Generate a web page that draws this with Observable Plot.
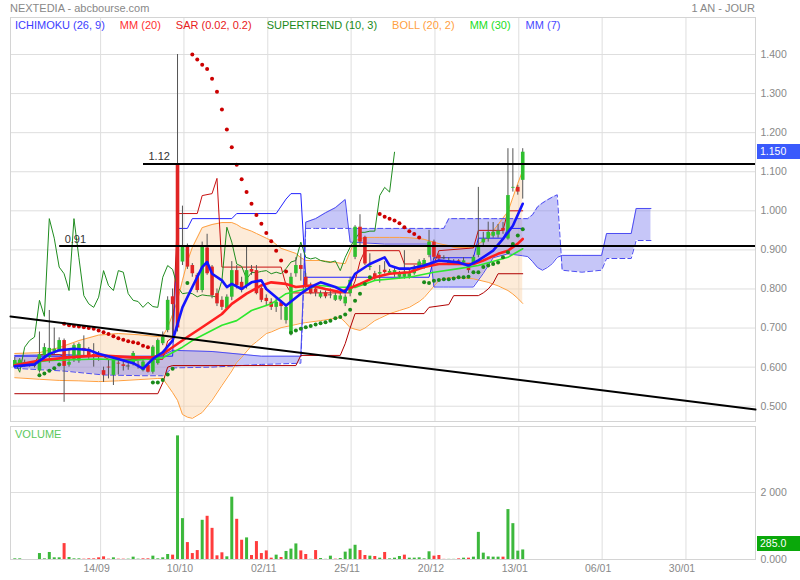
<!DOCTYPE html>
<html><head><meta charset="utf-8">
<script src="https://cdn.jsdelivr.net/npm/d3@7"></script>
<script src="https://cdn.jsdelivr.net/npm/@observablehq/plot@0.6"></script>
<style>
body{margin:0;background:#fff;font-family:"Liberation Sans",Arial,sans-serif;}
#wrap{position:relative;width:800px;height:580px;overflow:hidden;background:#fff;}
.p{position:absolute;left:0;}
.t{position:absolute;font-size:11px;line-height:11px;white-space:nowrap;}
#legend{position:absolute;left:15px;top:20px;display:flex;gap:15px;font-size:11px;line-height:11px;white-space:nowrap;}
.badge{position:absolute;left:757px;width:43px;height:15px;color:#fff;font-size:10.5px;line-height:15px;padding-left:3px;box-sizing:border-box;}
</style></head><body>
<div id="wrap">
  <div class="p" id="price" style="top:0"></div>
  <div class="p" id="dates" style="top:560px"></div>
  <div class="p" id="vol" style="top:425px"></div>
</div>
<script>
// ---------- DATA ----------
const title = "NEXTEDIA - abcbourse.com";
const period = "1 AN - JOUR";
const legendLabels = ["ICHIMOKU (26, 9)", "MM (20)", "SAR (0.02, 0.2)", "SUPERTREND (10, 3)", "BOLL (20, 2)", "MM (30)", "MM (7)"];
const legendColors = ["#3d3dff", "#ff3030", "#e82020", "#1a8a1a", "#ffa040", "#22dd22", "#4848ff"];

const dateTickIdx = [17.4, 34.3, 51.3, 68.2, 85.2, 102.2, 119.1, 136.1];
const dateLabels = ["14/09", "10/10", "02/11", "25/11", "20/12", "13/01", "06/01", "30/01"];
const priceTicks = [0.5, 0.6, 0.7, 0.8, 0.9, 1.0, 1.1, 1.2, 1.3, 1.4];
const volTicks = [0, 2000];

const open = [.600,.603,.605,.606,.604,.590,.630,.625,.640,.643,
.668,.605,.620,.616,.648,.645,.632,.635,.591,.600,
.579,.610,.606,.603,.609,.606,.591,.604,.587,.609,
.660,.694,.780,1.120,.869,.909,.860,.835,.796,.905,
.856,.788,.771,.749,.779,.847,.817,.809,.850,.847,
.801,.776,.766,.753,.765,.719,.685,.839,.860,.830,
.809,.800,.779,.790,.785,.771,.772,.762,.788,.881,
.958,.932,.855,.839,.838,.848,.840,.839,.830,.830,
.830,.839,.852,.856,.886,.920,.886,.880,.864,.870,
.872,.866,.860,.864,.886,.918,.928,.935,.938,.955,
.928,1.058,1.060,1.078];
const close = [.617,.618,.612,.606,.604,.632,.650,.648,.646,.668,
.602,.612,.655,.658,.642,.625,.628,.625,.579,.598,
.617,.608,.602,.603,.635,.605,.613,.587,.651,.668,
.677,.771,.760,.700,.907,.856,.839,.796,.907,.839,
.783,.762,.753,.779,.847,.809,.796,.847,.843,.788,
.771,.768,.753,.766,.755,.753,.830,.860,.850,.805,
.788,.790,.788,.780,.785,.783,.782,.779,.822,.958,
.920,.864,.858,.826,.842,.842,.845,.847,.839,.843,
.839,.852,.869,.873,.920,.881,.877,.880,.873,.870,
.868,.872,.847,.881,.907,.928,.945,.945,.948,.948,
1.039,1.060,1.048,1.150];
const high = [.625,.622,.618,.612,.610,.690,.660,.745,.700,.675,
.672,.645,.660,.662,.680,.650,.660,.640,.600,.620,
.625,.620,.615,.610,.640,.615,.618,.610,.655,.672,
.690,.780,.800,1.400,1.012,.915,.865,.840,.920,.940,
.860,.800,.780,.785,.870,.860,.830,.907,.860,.860,
.805,.785,.775,.775,.770,.760,.840,.880,.890,.840,
.815,.805,.795,.795,.800,.790,.790,.785,.830,.962,
.990,.935,.890,.845,.860,.870,.850,.855,.845,.898,
.850,.860,.875,.878,.950,.925,.890,.885,.880,.875,
.875,.880,.865,.886,1.060,.945,.971,.970,.965,.970,
1.159,1.159,1.065,1.159];
const low = [.598,.600,.600,.600,.598,.585,.620,.610,.630,.640,
.510,.600,.612,.610,.628,.620,.600,.615,.561,.570,
.553,.580,.590,.592,.603,.595,.588,.585,.582,.605,
.655,.688,.668,.690,.860,.850,.830,.790,.790,.835,
.775,.755,.745,.745,.770,.800,.790,.800,.835,.785,
.765,.755,.745,.740,.720,.710,.680,.830,.820,.800,
.785,.780,.775,.775,.775,.768,.768,.755,.780,.875,
.910,.860,.847,.820,.815,.838,.835,.830,.825,.825,
.825,.835,.848,.850,.880,.875,.870,.875,.860,.865,
.860,.862,.840,.860,.880,.910,.920,.930,.930,.940,
.925,1.048,1.040,1.030];
const volume = [20,20,0,0,0,178,20,210,50,50,
475,60,20,20,10,20,20,50,80,10,
50,10,10,10,70,10,20,20,100,20,
50,150,130,3690,1220,505,178,267,1170,1290,
930,110,200,80,1860,1200,575,645,120,535,
178,257,40,130,60,240,310,465,257,150,
5,267,30,5,100,10,30,220,310,425,
267,120,100,90,40,210,20,40,90,130,
40,40,50,20,230,100,120,5,5,5,
20,40,40,70,810,190,80,70,70,70,
1490,1070,250,285];
const volumeUp = [1,1,1,1,1,1,1,1,1,1,
0,1,1,1,0,0,0,0,0,0,
1,0,0,1,1,1,0,0,1,1,
1,1,0,1,1,0,0,0,1,0,
0,0,0,1,1,0,0,1,0,0,
0,0,0,1,0,1,1,1,0,0,
1,0,1,1,1,0,1,1,1,1,
0,0,1,0,1,0,1,1,1,0,
1,1,1,1,1,0,0,0,1,1,
0,1,0,1,1,1,1,1,1,0,
1,1,1,1];

// moving averages [bar index, value]
const mm20 = [[0,.605],[5,.617],[11,.625],[17,.630],[24,.625],[28,.625],[30,.634],[32,.651],[35,.677],[38,.702],[42,.736],[44,.762],[47,.788],[50,.809],[52,.817],[55,.813],[57,.805],[60,.809],[63,.800],[66,.792],[70,.813],[73,.830],[76,.839],[80,.843],[83,.856],[86,.864],[90,.864],[93,.864],[95,.873],[98,.890],[100,.898],[102,.916],[103,.928]];
const mm30 = [[0,.607],[7,.617],[17,.621],[24,.617],[30,.624],[34,.651],[36,.668],[42,.707],[45,.719],[48,.745],[52,.762],[55,.788],[59,.800],[62,.809],[65,.805],[69,.804],[73,.822],[80,.830],[85,.843],[90,.852],[94,.860],[100,.881],[103,.903]];
const mm7 = [[0,.602],[4,.607],[7,.634],[9,.643],[12,.647],[15,.644],[17,.634],[21,.621],[24,.610],[26,.596],[28,.621],[30,.638],[32,.668],[34,.753],[36,.805],[38,.856],[39,.869],[40,.839],[42,.822],[43,.805],[44,.813],[46,.800],[48,.817],[50,.822],[51,.800],[53,.779],[55,.758],[58,.788],[60,.805],[62,.817],[65,.805],[67,.792],[69,.839],[72,.864],[75,.881],[76,.860],[78,.852],[80,.852],[83,.860],[86,.873],[90,.868],[92,.860],[94,.873],[97,.898],[99,.928],[101,.962],[103,1.018]];

// Bollinger [index, upper, lower]
const boll = [[0,.635,.573],[5,.637,.569],[9,.650,.566],[13,.668,.565],[17,.682,.563],[21,.686,.565],[25,.683,.568],[29,.678,.571],[30,.680,.571],[31,.701,.553],[32,.735,.535],[33,.770,.515],[34,.822,.479],[35,.870,.472],[36,.906,.469],[38,.957,.484],[40,.965,.515],[42,.970,.553],[44,.970,.590],[45,.965,.612],[46,.957,.625],[48,.948,.655],[49,.942,.665],[51,.930,.686],[52,.924,.690],[54,.904,.701],[57,.891,.709],[58,.880,.712],[59,.873,.714],[62,.873,.719],[65,.868,.725],[66,.866,.727],[67,.865,.715],[68,.895,.701],[69,.924,.697],[70,.928,.694],[71,.932,.700],[73,.932,.719],[74,.932,.725],[76,.932,.737],[78,.932,.745],[80,.931,.753],[82,.929,.768],[83,.927,.778],[86,.916,.822],[88,.911,.829],[89,.906,.829],[92,.906,.827],[93,.906,.826],[96,.932,.817],[98,.965,.808],[100,.998,.796],[101,1.034,.787],[102,1.070,.776],[103,1.103,.763]];

// Ichimoku cloud [index, span A, span B]
const kumo = [[0,.630,.597],[10,.632,.590],[18,.628,.580],[26,.622,.578],[30,.630,.578],[32,.643,.598],[40,.640,.600],[50,.628,.607],[58,.628,.610],[59,.971,.955],[61,.980,.955],[63,.995,.955],[65,1.008,.955],[67,1.029,.955],[68,.920,.955],[75,.915,.955],[84,.915,.955],[85,.805,.955],[87,.805,.955],[88,.805,.980],[93,.805,.980],[95,.840,.980],[97,.880,.980],[100,.890,.980],[103,.885,.980],[104,.883,.980],[105,.870,.990],[106,.855,1.010],[107,.848,1.020],[108,.855,1.028],[109,.865,1.035],[110,.881,1.041],[111,.886,.848],[115,.886,.843],[119,.886,.848],[120,.942,.878],[125,.942,.878],[126,1.006,.924],[129,1.006,.924]];
const tenkan = [[0,.610],[4,.610],[5,.632],[9,.632],[10,.627],[18,.627],[19,.620],[30,.620],[31,.667],[32,.676],[33,.993],[37,.993],[38,1.039],[40,1.044],[41,1.083],[42,.856],[54,.856],[55,.810],[56,.790],[68,.790],[69,.820],[70,.870],[71,.898],[78,.898],[79,.864],[85,.864],[86,.898],[93,.905],[94,.950],[99,.950],[100,1.000],[103,1.000]];
const kijun = [[0,.628],[32,.628],[33,.955],[35,.955],[36,.980],[44,.980],[45,.993],[53,.993],[55,1.030],[56,1.044],[58,1.044],[59,.830],[84,.830],[85,.880],[93,.880],[94,.930],[99,.930],[100,.955],[103,.955]];
// lagging span, one value per bar from bar 0
const chikou = [.613,.587,.651,.668,.677,.771,.730,.980,.930,.856,
.839,.796,.980,.880,.783,.762,.753,.779,.847,.809,
.796,.847,.843,.788,.771,.768,.753,.766,.755,.753,
.830,.860,.850,.805,.788,.790,.788,.780,.785,.783,
.782,.779,.822,.958,.920,.864,.858,.826,.842,.842,
.845,.847,.839,.843,.839,.852,.869,.873,.920,.881,
.877,.880,.873,.870,.868,.872,.847,.881,.907,.928,
.945,.945,.948,.948,1.039,1.060,1.048,1.150];
const supertrend = [[0,.532],[29,.532],[30,.560],[31,.600],[32,.604],[57,.604],[58,.630],[66,.630],[67,.660],[68,.700],[69,.737],[83,.737],[84,.753],[88,.760],[89,.783],[94,.783],[95,.790],[96,.800],[97,.815],[98,.839],[103,.839]];

// SAR dots [index, value]
const sarBelow = [[5,.579],[6,.584],[7,.591],[8,.597],[9,.607],[28,.561],[29,.561],[30,.567],[31,.581],[32,.596],[35,.815],[56,.688],[57,.694],[58,.698],[59,.702],[60,.705],[61,.709],[62,.712],[63,.715],[64,.719],[65,.725],[66,.728],[67,.735],[68,.747],[69,.770],[70,.788],[71,.813],[72,.830],[83,.817],[84,.815],[85,.821],[86,.823],[87,.825],[88,.825],[89,.827],[90,.830],[91,.830],[92,.831],[93,.843],[94,.843],[95,.856],[96,.860],[97,.864],[98,.868],[99,.881],[100,.894],[101,.915],[102,.937],[103,.953]];
const sarAbove = [[10,.711],[11,.707],[12,.705],[13,.704],[14,.702],[15,.700],[16,.698],[17,.694],[18,.689],[19,.685],[20,.679],[21,.674],[22,.670],[23,.666],[24,.664],[25,.661],[26,.655],[27,.651],[36,1.400],[37,1.387],[38,1.374],[39,1.363],[40,1.338],[41,1.305],[42,1.259],[43,1.208],[44,1.163],[45,1.118],[46,1.081],[47,1.048],[48,1.018],[49,.989],[50,.967],[51,.943],[52,.922],[53,.898],[54,.873],[55,.845],[74,.992],[75,.985],[76,.980],[77,.975],[78,.968],[79,.958],[80,.948],[81,.941],[82,.932]];

// drawn lines
const hLevels = [1.12, 0.91];
const hLevelStart = [26.1, 9.1];
const hLevelLabels = ["1.12", "0.91"];
const trendIdx = [-0.87, 150.2];
const trendVal = [0.7296, 0.4916];

// ---------- BUILD ----------
const X_DOMAIN = [-0.87, 150.2];
const FONT = '"Liberation Sans", Arial, sans-serif';
const pts = a => a.map(([i, v]) => ({i, v}));
const candles = open.map((o, i) => ({i, o, c: close[i], h: high[i], l: low[i]}));
const bodies = candles.filter(d => d.o !== d.c);
const dojis = candles.filter(d => d.o === d.c);
const bollRows = boll.map(([i, up, lo]) => ({i, up, lo}));
const kumoRows = kumo.map(([i, a, b]) => ({i, a, b}));
const chikouRows = chikou.map((v, i) => ({i, v}));
const levels = hLevels.map((v, k) => ({v, from: hLevelStart[k], label: hLevelLabels[k]}));
const trend = trendIdx.map((i, k) => ({i, v: trendVal[k]}));
const vols = volume.map((v, i) => ({i, v, up: volumeUp[i]}));

const price = Plot.plot({
  width: 800, height: 425, marginLeft: 10, marginRight: 45, marginTop: 17, marginBottom: 4,
  style: {fontFamily: FONT, fontSize: "10.5px", color: "#888", background: "transparent", overflow: "visible"},
  x: {domain: X_DOMAIN, axis: null},
  y: {domain: [0.4609, 1.4947], axis: "right", ticks: priceTicks, tickFormat: d3.format(".3f"), tickSize: 0, tickPadding: 5, label: null},
  marks: [
    Plot.ruleY(priceTicks, {stroke: "#dedede"}),
    Plot.ruleX(dateTickIdx, {stroke: "#dedede"}),
    Plot.frame({stroke: "#d4d4d4"}),
    Plot.areaY(bollRows, {x: "i", y1: "lo", y2: "up", fill: "#fbd2a8", fillOpacity: 0.45}),
    Plot.areaY(kumoRows, {x: "i", y1: "a", y2: "b", fill: "#7878ee", fillOpacity: 0.42}),
    Plot.line(bollRows, {x: "i", y: "up", stroke: "#ffa040", strokeWidth: 1}),
    Plot.line(bollRows, {x: "i", y: "lo", stroke: "#ffa040", strokeWidth: 1}),
    Plot.line(kumoRows, {x: "i", y: "a", stroke: "#4c4cf2", strokeWidth: 1}),
    Plot.line(kumoRows, {x: "i", y: "b", stroke: "#4c4cf2", strokeWidth: 1, strokeDasharray: "5,3"}),
    Plot.line(pts(supertrend), {x: "i", y: "v", stroke: "#b00000", strokeWidth: 1}),
    Plot.line(pts(kijun), {x: "i", y: "v", stroke: "#2222ff", strokeWidth: 1}),
    Plot.line(pts(tenkan), {x: "i", y: "v", stroke: "#c81010", strokeWidth: 1}),
    Plot.line(chikouRows, {x: "i", y: "v", stroke: "#1f8c1f", strokeWidth: 1}),
    Plot.ruleX(candles, {x: "i", y1: "l", y2: "h", stroke: "#555", strokeWidth: 1}),
    Plot.ruleX(bodies, {x: "i", y1: "o", y2: "c", stroke: d => d.c > d.o ? "#2fbf2f" : "#e02424", strokeWidth: 3.6}),
    Plot.ruleY(dojis, {y: "c", x1: d => d.i - 0.4, x2: d => d.i + 0.4, stroke: "#555"}),
    Plot.line(pts(mm30), {x: "i", y: "v", stroke: "#2ee82e", strokeWidth: 1.6}),
    Plot.line(pts(mm20), {x: "i", y: "v", stroke: "#ff2020", strokeWidth: 2.6}),
    Plot.line(pts(mm7), {x: "i", y: "v", stroke: "#1414ff", strokeWidth: 2.6}),
    Plot.dot(pts(sarAbove), {x: "i", y: "v", r: 2, fill: "#cc0000"}),
    Plot.dot(pts(sarBelow), {x: "i", y: "v", r: 2, fill: "#1a8a1a"}),
    Plot.ruleY(levels, {y: "v", x1: "from", x2: X_DOMAIN[1], stroke: "#000", strokeWidth: 2}),
    Plot.text(levels, {x: "from", y: "v", text: "label", textAnchor: "start", dx: 5, dy: -7, fill: "#333", fontSize: 11}),
    Plot.line(trend, {x: "i", y: "v", stroke: "#000", strokeWidth: 2})
  ]
});
document.getElementById("price").appendChild(price);

const vol = Plot.plot({
  width: 800, height: 135, marginLeft: 10, marginRight: 45, marginTop: 1, marginBottom: 1,
  style: {fontFamily: FONT, fontSize: "10.5px", color: "#888", background: "transparent", overflow: "visible"},
  x: {domain: X_DOMAIN, axis: null},
  y: {domain: [0, 3970], axis: "right", ticks: volTicks, tickFormat: d => d === 0 ? "0.000" : d3.format(",")(d).replace(",", " "), tickSize: 0, tickPadding: 5, label: null},
  marks: [
    Plot.ruleY(volTicks, {stroke: "#dedede"}),
    Plot.ruleX(dateTickIdx, {stroke: "#dedede"}),
    Plot.frame({stroke: "#d4d4d4"}),
    Plot.ruleX(vols, {x: "i", y1: 0, y2: "v", stroke: d => d.up ? "#3cb83c" : "#ff3c3c", strokeWidth: 3})
  ]
});
document.getElementById("vol").appendChild(vol);

const dates = Plot.plot({
  width: 800, height: 20, marginLeft: 10, marginRight: 45, marginTop: 0, marginBottom: 0,
  style: {fontFamily: FONT, fontSize: "10.5px", color: "#888", background: "transparent"},
  x: {domain: X_DOMAIN, axis: null},
  marks: [Plot.text(dateTickIdx, {x: d => d, text: (d, i) => dateLabels[i], dx: -4, dy: -2, fill: "#888", fontSize: 10.5})]
});
document.getElementById("dates").appendChild(dates);

// ---------- HTML TEXT ----------
const wrap = document.getElementById("wrap");
function addDiv(cls, style, text) {
  const d = document.createElement("div");
  d.className = cls; d.style.cssText = style; d.textContent = text;
  wrap.appendChild(d); return d;
}
addDiv("t", "left:10px;top:3px;color:#888", title);
addDiv("t", "right:45px;top:3px;color:#888", period);
addDiv("t", "left:15px;top:429px;color:#5cc85c", "VOLUME");
const leg = document.createElement("div");
leg.id = "legend";
legendLabels.forEach((l, k) => { const s = document.createElement("span"); s.textContent = l; s.style.color = legendColors[k]; leg.appendChild(s); });
wrap.appendChild(leg);

const lastClose = close[close.length - 1];
const yC = price.scale("y").apply(lastClose);
addDiv("badge", `top:${yC - 7.5}px;background:#3a5afc`, d3.format(".3f")(lastClose));
const lastVol = volume[volume.length - 1];
const yV = 425 + vol.scale("y").apply(lastVol);
addDiv("badge", `top:${yV - 13.5}px;background:#0aa80a`, d3.format(".1f")(lastVol));
</script>
</body></html>
